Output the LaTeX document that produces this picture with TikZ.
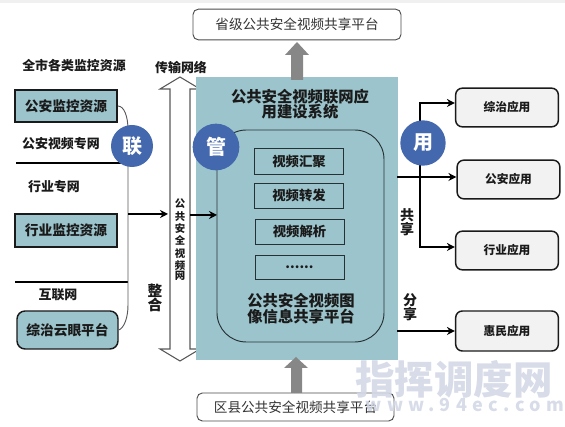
\documentclass[tikz,border=0pt]{standalone}
\usepackage{fontspec}
\setmainfont{Noto Sans CJK SC}
\newfontfamily\wmfont[LetterSpace=30]{Noto Sans CJK SC}
\usetikzlibrary{arrows.meta,calc}
\definecolor{teal1}{HTML}{9CC4CC}
\definecolor{blue1}{HTML}{4468AE}
\definecolor{wm}{HTML}{D3D8E6}
\definecolor{dk}{HTML}{1A1A1A}
\newcommand{\fs}[1]{\fontsize{#1}{#1}\selectfont}
\newcommand{\tight}[1]{\lineskiplimit=-30pt\baselineskip=#1\relax}
\tikzset{
  x=0.75pt,y=-0.75pt,
  lab/.style={inner sep=0pt,text=dk,font=\fs{9.7}\bfseries,align=center},
  vlab/.style={inner sep=0pt,text=dk,font=\fs{10.5}\bfseries,align=center,text width=12pt},
  res/.style={draw=dk,fill=teal1,inner sep=0pt,font=\fs{10.3}\bfseries,text=dk},
  func/.style={draw=black!75!teal1,fill=teal1,inner sep=0pt,font=\fs{10}\bfseries,text=dk,minimum width=67pt},
  app/.style={draw=dk,line width=1.1pt,fill=black!5,rounded corners=5pt,inner sep=0pt,font=\fs{8.8}\bfseries,text=dk,minimum width=77pt,minimum height=29pt},
  plat/.style={draw=black!70,line width=0.7pt,fill=white,rounded corners=4pt,inner sep=0pt,font=\fs{10.2},text=black!80},
  hub/.style={circle,fill=blue1,text=white,inner sep=0pt,font=\fs{15}\bfseries},
  flow/.style={line width=1.4pt,black,-{Stealth[length=6pt,width=6pt]}},
  rail/.style={line width=0.7pt,black!65},
  rule/.style={line width=1.5pt,black},
  bigarrow/.style={draw=none,fill=black!47},
  mark1/.style={inner sep=0pt,text=wm,font=\fs{29.6}\bfseries},
}
\begin{document}
\begin{tikzpicture}
\useasboundingbox (0,0) rectangle (565,427);
\fill[black!6] (0,0) rectangle (565,3);

% double-headed network arrow, behind the panel
\draw[draw=black!65,line width=0.8pt,fill=white,line join=miter]
  (180,77) -- (200,89) -- (190,89) -- (190,349) -- (200,349) -- (180,361)
  -- (160,349) -- (170,349) -- (170,89) -- (160,89) -- cycle;

% panel
\node[fill=teal1,inner sep=0pt,minimum width=151pt,minimum height=212.25pt,anchor=north west] (panel) at (196,77) {};
\draw[black!75!teal1,line width=0.7pt,rounded corners=22pt] (217,130) rectangle (384,342);
\coordinate (inL) at (217,215);

% platforms and grey arrows
\node[plat,minimum width=156pt,minimum height=23pt] (prov) at (297,24.5) {省级公共安全视频共享平台};
\node[plat,minimum width=147.75pt,minimum height=21pt] (dist) at (295.5,407) {区县公共安全视频共享平台};
\fill[bigarrow] (297,42) -- (309,55) -- (303,55) -- (303,80) -- (291,80) -- (291,55) -- (285,55) -- cycle;
\fill[bigarrow] (296,357) -- (308,368) -- (302,368) -- (302,393) -- (291,393) -- (291,368) -- (284,368) -- cycle;

% panel text
\node[lab,font=\fs{11.5}\bfseries,text=dk] (title) at (300,104) {\tight{13.5pt}公共安全视频联网应\\用建设系统};
\node[lab,font=\fs{11.5}\bfseries,text=dk] (title2) at (301,308.5) {\tight{14pt}公共安全视频图\\像信息共享平台};
\node[func,minimum height=19.5pt] (f1) at (299,161) {视频汇聚};
\node[func,minimum height=19pt] (f2) at (299,195.5) {视频转发};
\node[func,minimum height=19pt] (f3) at (299.5,231.5) {视频解析};
\node[func,minimum height=18pt] (f4) at (299.5,267) {......};

% left column
\node[lab] (t0) at (74,66) {全市各类监控资源};
\node[res,line width=1.3pt,minimum width=76.5pt,minimum height=24pt] (r1) at (66,106) {公安监控资源};
\node[lab] (t1) at (61,144) {公安视频专网};
\node[lab] (t2) at (54,187) {行业专网};
\node[res,line width=0.9pt,minimum width=76.5pt,minimum height=24.75pt] (r2) at (66,230.5) {行业监控资源};
\node[lab] (t3) at (58,295) {互联网};
\node[res,line width=1.1pt,rounded corners=6pt,minimum width=75.75pt,minimum height=28.5pt] (r3) at (67.5,330) {综治云眼平台};

\coordinate (L1a) at (16,163);
\coordinate (L1b) at (128,163);
\coordinate (L2a) at (15,282);
\coordinate (L2b) at (128,282);
\draw[rule] (L1a) -- (L1b);
\draw[rule] (L2a) -- (L2b);

\draw[rail] (r1.east) .. controls (124,106) and (128,116) .. (128,130) -- (128,305)
  .. controls (128,318) and (124,328) .. (r3.east);
\node[hub,minimum size=31.5pt] (lian) at (132,146) {联};
\coordinate (jn) at (128,214);
\coordinate (shaftL) at (168,214);
\draw[flow] (jn) -- (shaftL);

\node[lab] (t4) at (181,68) {传输网络};
\node[vlab,font=\fs{7.8}\bfseries,text width=10pt] (v1) at (180,240) {\tight{9.25pt}公\\共\\安\\全\\视\\频\\网};
\node[vlab,font=\fs{11}\bfseries] (zh) at (155,298) {\tight{13.5pt}整\\合};

\coordinate (shaftR) at (190,215);
\draw[flow] (shaftR) -- (inL);
\node[hub,minimum size=35pt] (guan) at (216,147) {管};

% right column
\node[app] (a1) at (507,107.5) {综治应用};
\node[app] (a2) at (508.5,179.5) {公安应用};
\node[app] (a3) at (507,250.5) {行业应用};
\node[app,minimum height=30pt] (a4) at (507,331) {惠民应用};

\coordinate (pr) at (397,177);
\coordinate (pr2) at (397,331);
\coordinate (vtop) at (420,103);
\coordinate (vbot) at (420,247);
\draw[line width=1.4pt,black,line cap=rect] (vtop) -- (vbot);
\draw[flow] (vtop) -- (vtop -| a1.west);
\draw[flow] (pr) -- (pr -| a2.west);
\draw[flow] (vbot) -- (vbot -| a3.west);
\draw[flow] (pr2) -- (pr2 -| a4.west);
\node[hub,minimum size=34pt] (yong) at (423,143) {用};
\node[vlab] (gx) at (407,222) {\tight{13.5pt}共\\享};
\node[vlab] (fx) at (410,307.5) {\tight{12.75pt}分\\享};

% watermark
\node[mark1,opacity=.9] (wm1) at (454,379) {指挥调度网};
\node[inner sep=0pt,text=wm,font=\wmfont\fs{13.5}\bfseries,opacity=.9] (wm2) at (465,405) {www.94ec.com};
\end{tikzpicture}
\end{document}
